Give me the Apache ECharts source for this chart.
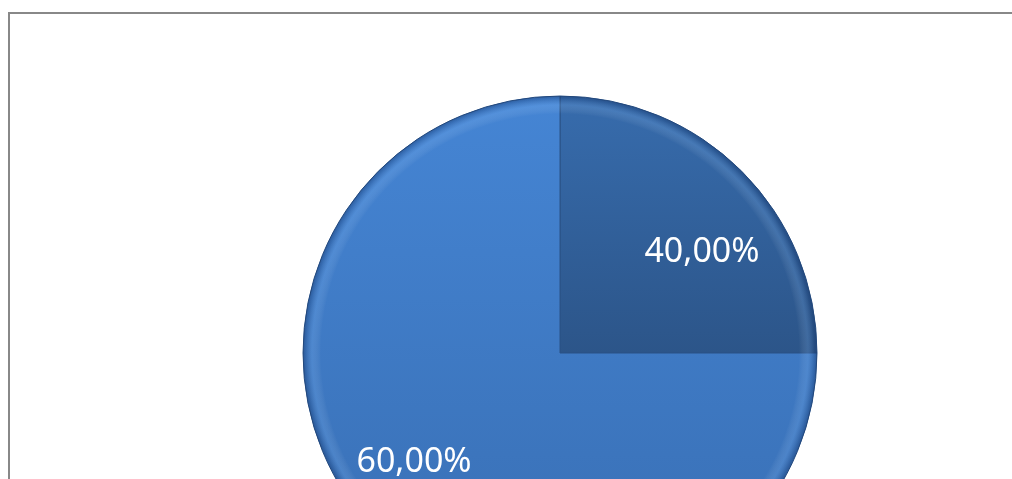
<!DOCTYPE html>
<html>
<head>
<meta charset="utf-8">
<script src="https://cdn.jsdelivr.net/npm/echarts/dist/echarts.min.js"></script>
<style>
  html, body { margin: 0; padding: 0; background: #fff; }
  #pie { width: 1012px; height: 479px; }
</style>
</head>
<body>
<div id="pie"></div>
<script>
  // slice names, share of the circle as drawn, and the printed data labels
  var sliceNames = ['A', 'B'];
  var sliceShares = [25, 75];
  var sliceLabels = ['40,00%', '60,00%'];

  var fills = [
    { type: 'linear', x: 0, y: 0, x2: 0, y2: 1, colorStops: [
      { offset: 0, color: '#376cad' }, { offset: 1, color: '#2c5589' }] },
    { type: 'linear', x: 0, y: 0, x2: 0, y2: 1, colorStops: [
      { offset: 0, color: '#4585d4' }, { offset: 1, color: '#386eb3' }] }
  ];
  // nudges from the default inside position to where the labels sit
  var labelNudge = [[49, -8], [-53, 16]];

  var rim = { type: 'radial', x: 560, y: 353, r: 257, global: true, colorStops: [
    { offset: 0, color: 'rgba(255,255,255,0)' },
    { offset: 0.93, color: 'rgba(255,255,255,0)' },
    { offset: 0.965, color: 'rgba(150,200,255,0.18)' },
    { offset: 0.99, color: 'rgba(20,50,100,0.25)' },
    { offset: 1, color: 'rgba(20,50,100,0.45)' }] };

  var chart = echarts.init(document.getElementById('pie'));

  var mainData = sliceNames.map(function (n, i) {
    return { name: n, value: sliceShares[i], itemStyle: { color: fills[i] } };
  });
  var rimData = sliceNames.map(function (n, i) {
    return { name: n, value: sliceShares[i] };
  });

  chart.setOption({
    animation: false,
    graphic: [{
      type: 'rect',
      shape: { x: 9, y: 13, width: 1100, height: 600 },
      style: { fill: 'none', stroke: '#888888', lineWidth: 2 },
      silent: true
    }],
    series: [{
      type: 'pie',
      center: [560, 353],
      radius: 257,
      startAngle: 90,
      clockwise: true,
      data: mainData,
      itemStyle: { borderColor: '#2a5286', borderWidth: 1 },
      label: {
        position: 'inside',
        color: '#ffffff',
        fontFamily: 'Noto Sans',
        fontSize: 34,
        formatter: function (p) { return sliceLabels[p.dataIndex]; }
      },
      labelLayout: function (p) {
        return { dx: labelNudge[p.dataIndex][0], dy: labelNudge[p.dataIndex][1] };
      },
      emphasis: { disabled: true }
    }, {
      type: 'pie',
      center: [560, 353],
      radius: 257,
      startAngle: 90,
      clockwise: true,
      silent: true,
      z: 3,
      data: rimData,
      itemStyle: { color: rim, borderWidth: 0 },
      label: { show: false },
      labelLine: { show: false }
    }]
  });
</script>
</body>
</html>
